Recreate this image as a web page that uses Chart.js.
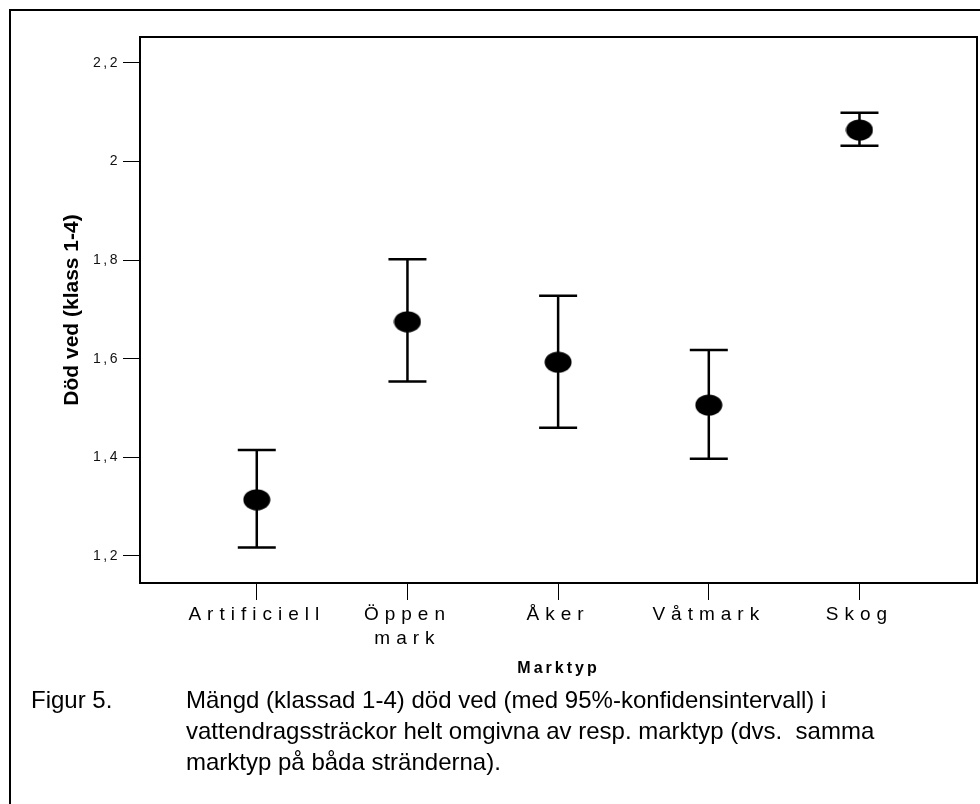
<!DOCTYPE html>
<html>
<head>
<meta charset="utf-8">
<script src="https://cdn.jsdelivr.net/npm/chart.js@4.4.0/dist/chart.umd.min.js"></script>
<style>
  html, body { margin: 0; padding: 0; background: #fff; overflow: hidden; }
  body { width: 980px; height: 804px; position: relative; font-family: "Liberation Sans", Arial, sans-serif; }
  .frame { position: absolute; left: 9px; top: 9px; width: 1100px; height: 1000px; border: 2px solid #000; box-sizing: border-box; }
  #chart { position: absolute; left: 0; top: 0; }
  .caption { position: absolute; top: 684px; font-size: 24px; line-height: 31px; color: #000; white-space: pre; }
</style>
</head>
<body>
<div class="frame"></div>
<canvas id="chart" width="980" height="690"></canvas>
<div class="caption" style="left:31px">Figur 5.</div>
<div class="caption" style="left:186px">Mängd (klassad 1-4) död ved (med 95%-konfidensintervall) i
vattendragssträckor helt omgivna av resp. marktyp (dvs.  samma
marktyp på båda stränderna).</div>
<script>
const categories = ['Artificiell', 'Öppen mark', 'Åker', 'Våtmark', 'Skog']
const means = [1.314, 1.675, 1.593, 1.506, 2.064]
const lower = [1.217, 1.554, 1.460, 1.397, 2.032]
const upper = [1.415, 1.802, 1.728, 1.618, 2.099]
const yTicks = [1.2, 1.4, 1.6, 1.8, 2.0, 2.2]

Chart.defaults.font.family = '"Liberation Sans", Arial, sans-serif'
Chart.defaults.color = '#000'

// Chart.js has no letter spacing option, so set it on the context per axis
const spacing = { x: { ticks: '6px', title: '3px' }, y: { ticks: '2.5px', title: '0px' } }
const baseDrawLabels = Chart.Scale.prototype.drawLabels
Chart.Scale.prototype.drawLabels = function (area) {
  this.ctx.letterSpacing = spacing[this.id].ticks
  baseDrawLabels.call(this, area)
  this.ctx.letterSpacing = '0px'
}
const baseDrawTitle = Chart.Scale.prototype.drawTitle
Chart.Scale.prototype.drawTitle = function () {
  this.ctx.letterSpacing = spacing[this.id].title
  baseDrawTitle.call(this)
  this.ctx.letterSpacing = '0px'
}

// filled ellipse for the means
const dot = document.createElement('canvas')
dot.width = 28
dot.height = 22
const g = dot.getContext('2d')
g.fillStyle = '#000'
g.beginPath()
g.ellipse(14, 11, 13.5, 10.5, 0, 0, Math.PI * 2)
g.fill()

const errorBars = {
  id: 'errorBars',
  beforeDatasetsDraw(chart) {
    const { ctx, scales: { x, y } } = chart
    ctx.save()
    ctx.strokeStyle = '#000'
    ctx.lineWidth = 2.5
    categories.forEach((c, i) => {
      const px = x.getPixelForValue(i + 1)
      const top = y.getPixelForValue(upper[i])
      const bot = y.getPixelForValue(lower[i])
      ctx.beginPath()
      ctx.moveTo(px, top)
      ctx.lineTo(px, bot)
      ctx.moveTo(px - 19, top)
      ctx.lineTo(px + 19, top)
      ctx.moveTo(px - 19, bot)
      ctx.lineTo(px + 19, bot)
      ctx.stroke()
    })
    ctx.restore()
  }
}

const frame = {
  id: 'frame',
  afterDraw(chart) {
    const { ctx, chartArea: a } = chart
    ctx.save()
    ctx.strokeStyle = '#000'
    ctx.lineWidth = 2
    ctx.strokeRect(a.left, a.top, a.right - a.left, a.bottom - a.top)
    ctx.restore()
  }
}

new Chart(document.getElementById('chart'), {
  type: 'scatter',
  data: {
    datasets: [{
      data: means.map((m, i) => ({ x: i + 1, y: m })),
      pointStyle: dot,
      pointRadius: 10,
      pointHoverRadius: 10
    }]
  },
  options: {
    responsive: false,
    animation: false,
    devicePixelRatio: 1,
    layout: { autoPadding: false, padding: { left: 0, top: 37, right: 3, bottom: 0 } },
    plugins: { legend: { display: false }, tooltip: { enabled: false } },
    scales: {
      x: {
        type: 'linear',
        min: 0.225,
        max: 5.78,
        afterBuildTicks: s => { s.ticks = categories.map((c, i) => ({ value: i + 1 })) },
        afterFit: s => {
          s.height = 107
          s.paddingLeft = 0
          s.paddingRight = 0
        },
        ticks: {
          callback: v => categories[v - 1].split(' '),
          font: { size: 19, lineHeight: 1.3 },
          color: '#000',
          padding: 2,
          maxRotation: 0,
          autoSkip: false
        },
        grid: { drawOnChartArea: false, tickLength: 17, color: '#000', lineWidth: 1 },
        border: { display: false },
        title: {
          display: true,
          text: 'Marktyp',
          font: { size: 16, weight: 'bold' },
          color: '#000',
          padding: { top: 0, bottom: 12 }
        }
      },
      y: {
        min: 1.1452,
        max: 2.2527,
        afterBuildTicks: s => { s.ticks = yTicks.map(v => ({ value: v })) },
        afterFit: s => {
          s.width = 140
          s.paddingTop = 0
          s.paddingBottom = 0
        },
        ticks: {
          callback: v => String(v).replace('.', ','),
          font: { size: 14 },
          color: '#111',
          padding: 3
        },
        grid: { drawOnChartArea: false, tickLength: 17, color: '#000', lineWidth: 1 },
        border: { display: false },
        title: {
          display: true,
          text: 'Död ved (klass 1-4)',
          font: { size: 21, weight: 'bold' },
          color: '#000',
          padding: { top: 60, bottom: 0 }
        }
      }
    }
  },
  plugins: [errorBars, frame]
})
</script>
</body>
</html>
